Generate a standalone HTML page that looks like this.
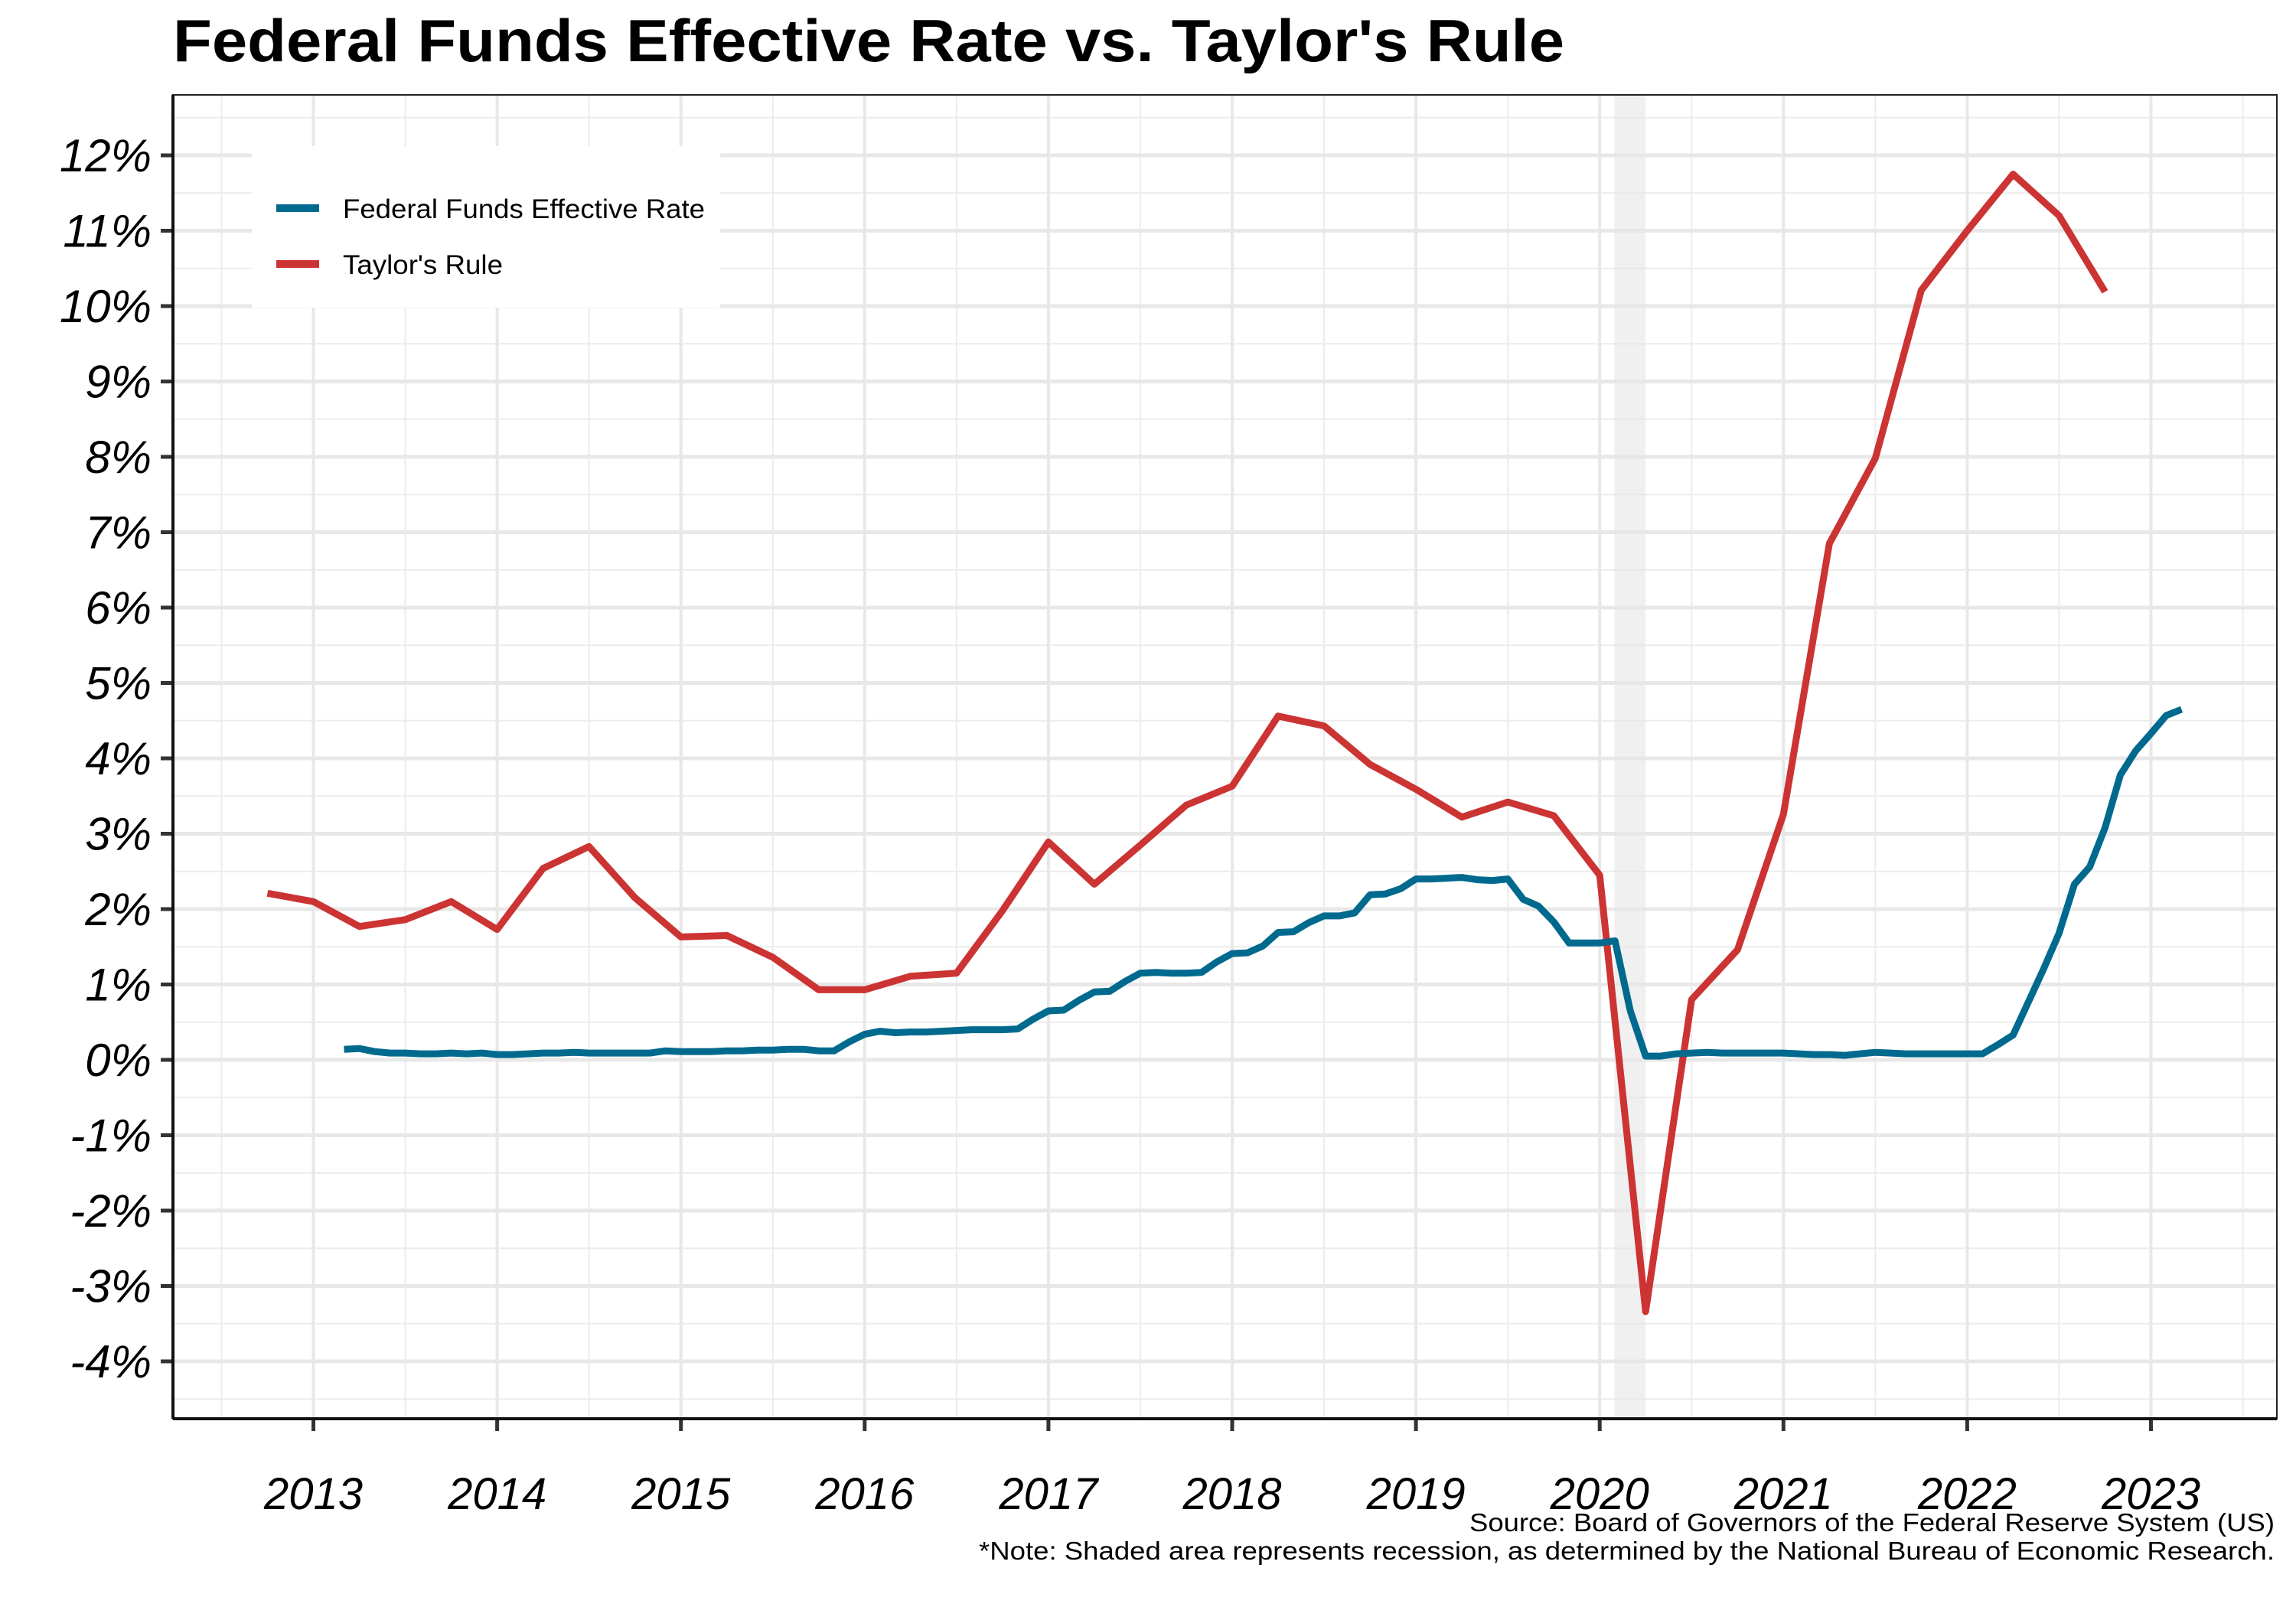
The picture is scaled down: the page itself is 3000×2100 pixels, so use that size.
<!DOCTYPE html>
<html><head><meta charset="utf-8"><style>
html,body{margin:0;padding:0;background:#fff}
svg{display:block}
text{font-family:"Liberation Sans",Arial,sans-serif}
</style></head><body>
<svg id="chart" width="3000" height="2100" viewBox="0 0 3000 2100" xmlns="http://www.w3.org/2000/svg">
<rect width="3000" height="2100" fill="#fff"/>
<text x="226" y="80" font-size="78" font-weight="bold" textLength="1818" lengthAdjust="spacingAndGlyphs">Federal Funds Effective Rate vs. Taylor's Rule</text>
<g id="grid"></g>
<rect id="shade" fill="#e6e6e6" opacity="0.6"/>
<g id="series"></g>
<g id="axes"></g>
<g>
<rect x="329" y="191" width="612" height="211" fill="#fff"/>
<line x1="361" y1="272" x2="417" y2="272" stroke="#006a8e" stroke-width="10"/>
<text x="448" y="285" font-size="35" textLength="473" lengthAdjust="spacingAndGlyphs">Federal Funds Effective Rate</text>
<line x1="361" y1="345" x2="417" y2="345" stroke="#cc3333" stroke-width="10"/>
<text x="448" y="358" font-size="35" textLength="209" lengthAdjust="spacingAndGlyphs">Taylor's Rule</text>
</g>
<text x="2972" y="2001" font-size="33" text-anchor="end" textLength="1052" lengthAdjust="spacingAndGlyphs">Source: Board of Governors of the Federal Reserve System (US)</text>
<text x="2972" y="2038" font-size="33" text-anchor="end" textLength="1693" lengthAdjust="spacingAndGlyphs">*Note: Shaded area represents recession, as determined by the National Bureau of Economic Research.</text>
</svg>
<script>
const yTicks = [12,11,10,9,8,7,6,5,4,3,2,1,0,-1,-2,-3,-4];
const xTicks = [2013,2014,2015,2016,2017,2018,2019,2020,2021,2022,2023];
const taylorStart = 2012.75;
const taylorValues = [2.21,2.1,1.77,1.86,2.1,1.73,2.54,2.83,2.15,1.63,1.65,1.36,0.93,0.93,1.11,1.15,1.98,2.89,2.33,2.85,3.38,3.63,4.56,4.43,3.92,3.59,3.22,3.42,3.24,2.45,-3.34,0.8,1.46,3.26,6.85,7.98,10.21,11.0,11.75,11.2,10.19];
const effrStart = 2013 + 2/12;
const effrValues = [
.14,.15,.11,.09,.09,.08,.08,.09,.08,.09,
.07,.07,.08,.09,.09,.10,.09,.09,.09,.09,.09,.12,
.11,.11,.11,.12,.12,.13,.13,.14,.14,.12,.12,.24,
.34,.38,.36,.37,.37,.38,.39,.40,.40,.40,.41,.54,
.65,.66,.79,.90,.91,1.04,1.15,1.16,1.15,1.15,1.16,1.30,
1.41,1.42,1.51,1.69,1.70,1.82,1.91,1.91,1.95,2.19,2.20,2.27,
2.40,2.40,2.41,2.42,2.39,2.38,2.40,2.13,2.04,1.83,1.55,1.55,
1.55,1.58,0.65,0.05,0.05,0.08,0.09,0.10,0.09,0.09,0.09,0.09,
.09,.08,.07,.07,.06,.08,.10,.09,.08,.08,.08,.08,
.08,.08,.20,.33,.77,1.21,1.68,2.33,2.56,3.08,3.78,4.10,
4.33,4.57,4.65];
const recession = [2020.08, 2020.25];

const L=226,R=2975,T=124,B=1854;
const X = t => 409.5 + (t-2013)*240.1;
const Y = v => 203 + (12-v)*98.5;
const NS="http://www.w3.org/2000/svg";
function mk(tag, parent, attrs){const e=document.createElementNS(NS,tag);for(const k in attrs)e.setAttribute(k,attrs[k]);parent.appendChild(e);return e;}
const grid=document.getElementById('grid'), axes=document.getElementById('axes'), series=document.getElementById('series');
for(let v=-4.5; v<=12.5; v+=1){ const y=Y(v); if(y<T||y>B) continue;
  const l=mk('line',grid,{x1:L,x2:R,y1:y,y2:y,stroke:'#ececec','stroke-width':2});
  
  
}
for(let t=2012.5; t<=2023.5; t+=1){ const x=X(t); if(x<L||x>R) continue;
  const l=mk('line',grid,{x1:x,x2:x,y1:T,y2:B,stroke:'#ececec','stroke-width':2});
  
  
}
yTicks.forEach(v=>{ const y=Y(v);
  const l=mk('line',grid,{x1:L,x2:R,y1:y,y2:y,stroke:'#e8e8e8','stroke-width':5});
  
  
  const tk=mk('line',axes,{x1:L-16,x2:L,y1:y,y2:y,stroke:'#333','stroke-width':5});
  
  
  const tx=mk('text',axes,{x:L-28,y:y+21,'font-size':60,'font-style':'italic','text-anchor':'end'});
  tx.textContent=v+'%';
  
  
});
xTicks.forEach(t=>{ const x=X(t);
  const l=mk('line',grid,{x1:x,x2:x,y1:T,y2:B,stroke:'#e8e8e8','stroke-width':4});
  
  
  const tk=mk('line',axes,{x1:x,x2:x,y1:B,y2:B+16,stroke:'#333','stroke-width':5});
  
  
  const tx=mk('text',axes,{x:x,y:B+118,'font-size':58,'font-style':'italic','text-anchor':'middle'});
  tx.textContent=t;
  
  
});
const sh=document.getElementById('shade');
sh.setAttribute('x',X(recession[0])); sh.setAttribute('width',X(recession[1])-X(recession[0]));
sh.setAttribute('y',T); sh.setAttribute('height',B-T);
const fr=mk('rect',axes,{x:L,y:T,width:R-L,height:B-T,fill:'none',stroke:'#222','stroke-width':2});


const ax1=mk('line',axes,{x1:L,x2:L,y1:T,y2:B,stroke:'#111','stroke-width':4});


const ax2=mk('line',axes,{x1:L,x2:R,y1:B,y2:B,stroke:'#111','stroke-width':4});


const tp=taylorValues.map((v,i)=>X(taylorStart+i*0.25).toFixed(1)+','+Y(v).toFixed(1)).join(' ');
const tl=mk('polyline',series,{points:tp,fill:'none',stroke:'#cc3333','stroke-width':9,'stroke-linejoin':'round'});


const ep=effrValues.map((v,i)=>X(effrStart+i/12).toFixed(1)+','+Y(v).toFixed(1)).join(' ');
const el=mk('polyline',series,{points:ep,fill:'none',stroke:'#006a8e','stroke-width':9,'stroke-linejoin':'round'});


</script>
</body></html>
